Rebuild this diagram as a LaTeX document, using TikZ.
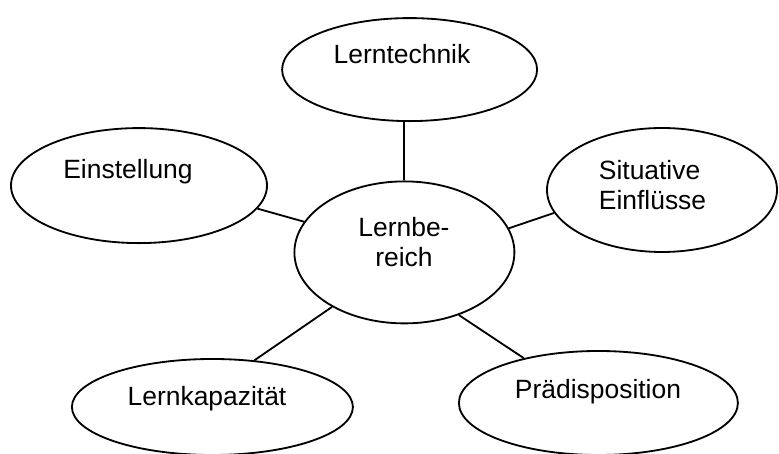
\documentclass[tikz,border=0pt]{standalone}
\usepackage{fontspec}
\setmainfont{Liberation Sans}
\usetikzlibrary{shapes.geometric}
\begin{document}
\begin{tikzpicture}[scale=1, line width=1.3pt,
  bubble/.style={draw, ellipse, inner sep=0pt},
  word/.style={font=\fontsize{18.8}{21.5}\selectfont, inner sep=0pt}]
\useasboundingbox (0,0) rectangle (19.475,11.35);
% ellipses
\node [bubble, minimum width=5.5cm, minimum height=3.55cm] (lb) at (10.11,5.04) {};
\node [bubble, minimum width=6.375cm, minimum height=2.575cm] (lt) at (10.24,9.61) {};
\node [bubble, minimum width=6.4cm, minimum height=2.875cm] (ei) at (3.475,6.71) {};
\node [bubble, minimum width=5.75cm, minimum height=3.1cm] (si) at (16.55,6.6) {};
\node [bubble, minimum width=7.025cm, minimum height=2.4cm] (lk) at (5.31,1.175) {};
\node [bubble, minimum width=6.975cm, minimum height=2.6cm] (pd) at (14.96,1.275) {};
% texts
\node [word, align=center] (lbtext) at (10.1,5.3) {Lernbe-\\reich};
\node [word, anchor=base] (lttext) at (10.05,9.77) {Lerntechnik};
\node [word, anchor=base] (eitext) at (3.2,6.89) {Einstellung};
\node [word, align=left, anchor=west] (sitext) at (14.95,6.725) {Situative\\Einflüsse};
\node [word, anchor=base] (lktext) at (5.175,1.2) {Lernkapazität};
\node [word, anchor=base] (pdtext) at (14.95,1.39) {Prädisposition};
% connectors
\draw (lb.north) -- (lb.north |- lt.south) ;
\draw (lb.163.3) -- (ei.349.7) ;
\draw (lb.13.3) -- (si.192.1) ;
\draw (lb.217.6) -- (lk.48.6) ;
\draw (lb.311) -- (pd.149.9) ;
\end{tikzpicture}
\end{document}
